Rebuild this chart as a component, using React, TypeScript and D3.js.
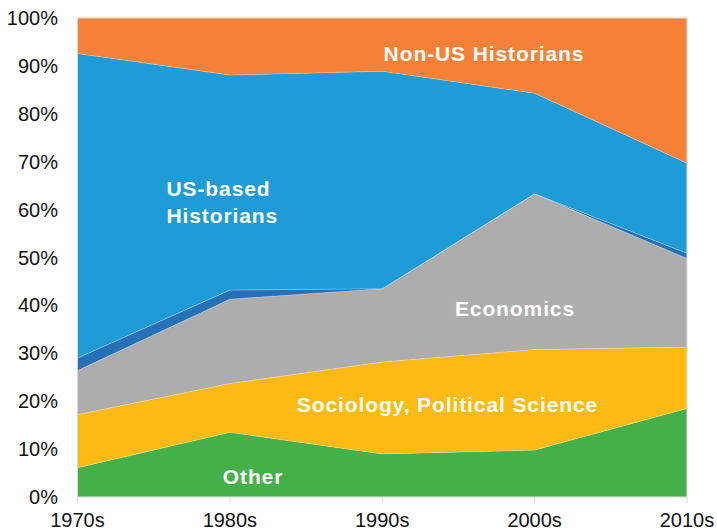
import React, { useEffect, useRef } from 'react';
import * as d3 from 'd3';

const decades = ['1970s', '1980s', '1990s', '2000s', '2010s'];
const other = [6.1, 13.5, 9.0, 9.8, 18.5];
const socPol = [11.1, 10.2, 19.2, 21.0, 12.8];
const economics = [9.2, 17.6, 15.3, 32.5, 18.5];
const otherHist = [2.6, 1.9, 0, 0, 1.1];
const usHist = [63.6, 44.9, 45.4, 21.0, 18.8];
const nonUsHist = [7.4, 11.9, 11.1, 15.7, 30.3];
const yTicks = [0, 10, 20, 30, 40, 50, 60, 70, 80, 90, 100];

const keys = ['other', 'socPol', 'economics', 'otherHist', 'usHist', 'nonUsHist'];
const colors: Record<string, string> = {
    other: '#45b04a',
    socPol: '#fcba13',
    economics: '#adadad',
    otherHist: '#2670b8',
    usHist: '#1f9bd7',
    nonUsHist: '#f58138',
};

const App = () => {
    const svgRef = useRef<SVGSVGElement>(null);

    useEffect(() => {
        if (!svgRef.current) return;
        const width = 717;
        const height = 530;
        const svg = d3.select(svgRef.current);
        svg.selectAll('*').remove();

        const rows = decades.map((d, i) => ({
            decade: d,
            other: other[i],
            socPol: socPol[i],
            economics: economics[i],
            otherHist: otherHist[i],
            usHist: usHist[i],
            nonUsHist: nonUsHist[i],
        }));

        const x = d3.scalePoint<string>().domain(decades).range([77.5, 687]);
        const xi = d3.scaleLinear().domain([0, decades.length - 1]).range([77.5, 687]);
        const y = d3.scaleLinear().domain([0, 100]).range([497, 18]);

        const series = d3.stack<any>().keys(keys)(rows);
        const area = d3.area<any>()
            .x(d => x(d.data.decade)!)
            .y0(d => y(d[0]))
            .y1(d => y(d[1]));

        svg.append('g')
            .selectAll('path')
            .data(series)
            .enter()
            .append('path')
            .attr('d', area)
            .attr('fill', d => colors[d.key])
            .attr('stroke', '#ffffff')
            .attr('stroke-opacity', 0.35)
            .attr('stroke-width', 0.6);

        // frame
        svg.append('rect')
            .attr('x', 77.5).attr('y', 18)
            .attr('width', 687 - 77.5).attr('height', 497 - 18)
            .attr('fill', 'none')
            .attr('stroke', '#d9d9d9')
            .attr('stroke-width', 1);

        // x ticks
        svg.append('g')
            .selectAll('line')
            .data(decades)
            .enter()
            .append('line')
            .attr('x1', d => x(d)!).attr('x2', d => x(d)!)
            .attr('y1', 497).attr('y2', 503)
            .attr('stroke', '#d9d9d9');

        svg.append('g')
            .selectAll('text')
            .data(decades)
            .enter()
            .append('text')
            .attr('x', d => x(d)!)
            .attr('y', 527)
            .attr('text-anchor', 'middle')
            .attr('font-family', 'Liberation Sans, Arial, sans-serif')
            .attr('font-size', '20px')
            .attr('fill', '#111')
            .text(d => d);

        svg.append('g')
            .selectAll('text')
            .data(yTicks)
            .enter()
            .append('text')
            .attr('x', 58)
            .attr('y', d => y(d) + 7)
            .attr('text-anchor', 'end')
            .attr('font-family', 'Liberation Sans, Arial, sans-serif')
            .attr('font-size', '20px')
            .attr('fill', '#111')
            .text(d => `${d}%`);

        // series labels
        const label = (text: string, i: number, v: number, anchor: string) =>
            svg.append('text')
                .attr('x', xi(i))
                .attr('y', y(v))
                .attr('text-anchor', anchor)
                .attr('font-family', 'Liberation Sans, Arial, sans-serif')
                .attr('font-size', '21px')
                .attr('letter-spacing', '0.9px')
                .attr('font-weight', 'bold')
                .attr('fill', '#ffffff')
                .text(text);

        label('Non-US Historians', 2.668, 91.0, 'middle');
        label('US-based', 0.584, 62.8, 'start');
        label('Historians', 0.584, 57.1, 'start');
        label('Economics', 2.871, 37.8, 'middle');
        label('Sociology, Political Science', 2.428, 17.8, 'middle');
        label('Other', 1.152, 2.65, 'middle');

        svg.attr('width', width).attr('height', height);
    }, []);

    return (
        <svg
            ref={svgRef}
            width={717}
            height={530}
            style={{ position: 'absolute', left: 0, top: 0, background: '#fff' }}
        />
    );
};

export default App;
